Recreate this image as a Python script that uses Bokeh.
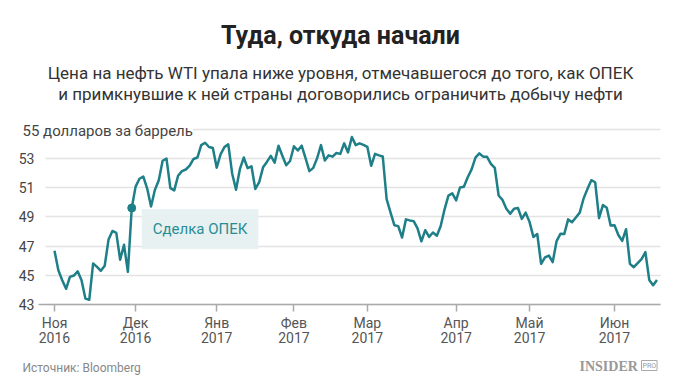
import numpy as np
import pandas as pd
from bokeh.plotting import figure
from bokeh.models import Range1d, Label, FixedTicker
from bokeh.embed import file_html
from bokeh.resources import INLINE

# ---- data -------------------------------------------------------------
holidays = ["2016-11-24", "2016-12-26", "2017-01-02", "2017-01-16",
            "2017-02-20", "2017-04-14", "2017-05-29"]
start_date = "2016-11-01"
end_date = "2017-06-16"

prices_nov = [46.67, 45.34, 44.66, 44.07, 44.89, 44.98, 45.27, 44.66, 43.41, 43.32,
              45.81, 45.57, 45.30, 45.65, 47.45, 48.03, 47.90, 46.06, 47.08, 45.23, 49.60]
prices_dec = [51.06, 51.60, 51.75, 50.93, 49.70, 50.84, 51.50, 52.83, 52.98, 50.96,
              50.80, 51.80, 52.12, 52.23, 52.49, 52.95, 53.05, 53.90, 54.06, 53.77, 53.70]
prices_jan = [52.35, 53.26, 53.76, 53.95, 51.96, 50.85, 52.25, 53.05, 52.32, 52.45,
              50.90, 51.37, 52.38, 52.75, 53.16, 52.70, 53.85, 53.17, 52.52, 52.81]
prices_feb = [53.82, 53.53, 53.86, 53.01, 52.12, 52.34, 53.00, 53.90, 52.85, 53.20,
              53.11, 53.36, 53.30, 54.02, 53.40, 54.45, 53.90, 54.02, 53.92]
prices_mar = [53.78, 52.48, 53.30, 53.20, 53.12, 50.20, 49.30, 48.42, 48.36, 47.58,
              48.82, 48.75, 48.70, 48.20, 47.32, 48.08, 47.62, 47.92, 47.70, 48.37,
              49.51, 50.45, 50.60]
prices_apr = [50.12, 51.00, 51.05, 51.70, 52.24, 53.05, 53.33, 53.11, 53.10, 52.62,
              52.35, 50.45, 50.15, 49.55, 49.20, 49.55, 49.60, 48.85, 49.28]
prices_may = [48.65, 47.62, 47.82, 45.78, 46.22, 46.35, 45.90, 47.33, 47.83, 47.82,
              48.82, 48.62, 48.95, 49.28, 50.25, 50.90, 51.50, 51.36, 48.90, 49.80,
              49.62, 48.40]
prices_jun = [48.42, 47.75, 47.35, 48.15, 45.78, 45.55, 45.83, 46.10, 46.58, 44.68,
              44.32, 44.68]

month_labels = ["Ноя\n2016", "Дек\n2016", "Янв\n2017", "Фев\n2017",
                "Мар\n2017", "Апр\n2017", "Май\n2017", "Июн\n2017"]
y_ticks = [43, 45, 47, 49, 51, 53, 55]
y_label_text = "55 долларов за баррель"
deal_date = "2016-11-30"
deal_text = "Сделка ОПЕК"

title_text = "Туда, откуда начали"
subtitle_1 = "Цена на нефть WTI упала ниже уровня, отмечавшегося до того, как ОПЕК"
subtitle_2 = "и примкнувшие к ней страны договорились ограничить добычу нефти"
source_text = "Источник: Bloomberg"

# ---- derived ----------------------------------------------------------
dates = pd.bdate_range(start_date, end_date)
dates = dates[~dates.isin(pd.to_datetime(holidays))]
prices = (prices_nov + prices_dec + prices_jan + prices_feb + prices_mar +
          prices_apr + prices_may + prices_jun)
assert len(prices) == len(dates), (len(prices), len(dates))
idx = np.arange(len(dates))
periods = dates.to_period("M")
month_starts = [int(np.argmax(periods == m)) for m in periods.unique()]
deal_idx = int(np.where(dates == pd.Timestamp(deal_date))[0][0])
deal_price = prices[deal_idx]

# ---- layout (pixels) --------------------------------------------------
W, H = 680, 382
PX_X0, PX_PER_DAY = 54.0, 3.862       # pixel of first trading day, px per day
PX_Y43, PX_PER_USD = 304.0, 14.625    # pixel of 43 USD, px per USD
x_start = -PX_X0 / PX_PER_DAY
x_end = x_start + W / PX_PER_DAY
y_end = y_ticks[0] + PX_Y43 / PX_PER_USD
y_start = y_end - H / PX_PER_USD

def px2x(px):
    return x_start + px / PX_PER_DAY

TEAL = "#1f7f88"
FONT = "Roboto"

p = figure(width=W, height=H, output_backend="svg", toolbar_location=None,
           x_range=Range1d(x_start, x_end), y_range=Range1d(y_start, y_end),
           min_border=0, min_border_left=0, min_border_right=0,
           min_border_top=0, min_border_bottom=0)
p.outline_line_color = None
p.background_fill_color = "white"
p.border_fill_color = "white"

p.xgrid.visible = False
p.ygrid.ticker = FixedTicker(ticks=y_ticks)
p.ygrid.grid_line_color = "#e3e3e3"
p.ygrid.grid_line_width = 1.5
p.ygrid.cross_bounds = (px2x(45), px2x(660))

ya = p.yaxis[0]
ya.fixed_location = px2x(45)
ya.ticker = FixedTicker(ticks=y_ticks)
ya.major_label_overrides = {55: ""}
ya.axis_line_color = None
ya.major_tick_line_color = None
ya.minor_tick_line_color = None
ya.major_tick_in = 0
ya.major_tick_out = 0
ya.major_label_standoff = 11
ya.major_label_text_font = FONT
ya.major_label_text_font_size = "14px"
ya.major_label_text_color = "#444444"

xa = p.xaxis[0]
xa.fixed_location = y_ticks[0]
xa.bounds = (px2x(38), px2x(660))
xa.ticker = FixedTicker(ticks=month_starts)
xa.major_label_overrides = {m: lab for m, lab in zip(month_starts, month_labels)}
xa.axis_line_color = "#aaaaaa"
xa.axis_line_width = 1.5
xa.major_tick_line_color = "#aaaaaa"
xa.major_tick_line_width = 1.5
xa.major_tick_in = 0
xa.major_tick_out = 7
xa.minor_tick_line_color = None
xa.major_label_standoff = 3
xa.major_label_text_font = FONT
xa.major_label_text_font_size = "14px"
xa.major_label_text_color = "#555555"
xa.major_label_text_line_height = 0.95

p.line(idx, prices, line_color=TEAL, line_width=2.5, line_join="round")
p.scatter([deal_idx], [deal_price], size=8, color=TEAL)

p.add_layout(Label(x=deal_idx, y=deal_price, text=deal_text, x_offset=10, y_offset=-1,
                   text_align="left", text_baseline="top", text_font=FONT,
                   text_font_size="15px", text_color="#2a8d94",
                   background_fill_color="#e7f1f2", padding=11))

def screen_label(px, py, text, size, color, align="center", font=FONT, style="normal", **kw):
    p.add_layout(Label(x=px, y=H - py, x_units="screen", y_units="screen", text=text,
                       text_align=align, text_baseline="middle", text_font=font,
                       text_font_size=size, text_color=color, text_font_style=style, **kw))

screen_label(340, 35, title_text, "25px", "#222222", style="bold")
screen_label(340, 72, subtitle_1, "17px", "#333333")
screen_label(340, 93, subtitle_2, "17px", "#333333")
screen_label(22, 130, y_label_text, "15px", "#444444", align="left",
             background_fill_color="white")
screen_label(22, 367, source_text, "12px", "#888888", align="left")
screen_label(579, 366, "INSIDER", "14px", "#999999", align="left",
             font="Liberation Serif", style="bold")
screen_label(641, 365, "PRO", "7px", "#999999", align="left",
             border_line_color="#aaaaaa", padding=1)

open("out.html", "w").write(file_html(p, INLINE))
